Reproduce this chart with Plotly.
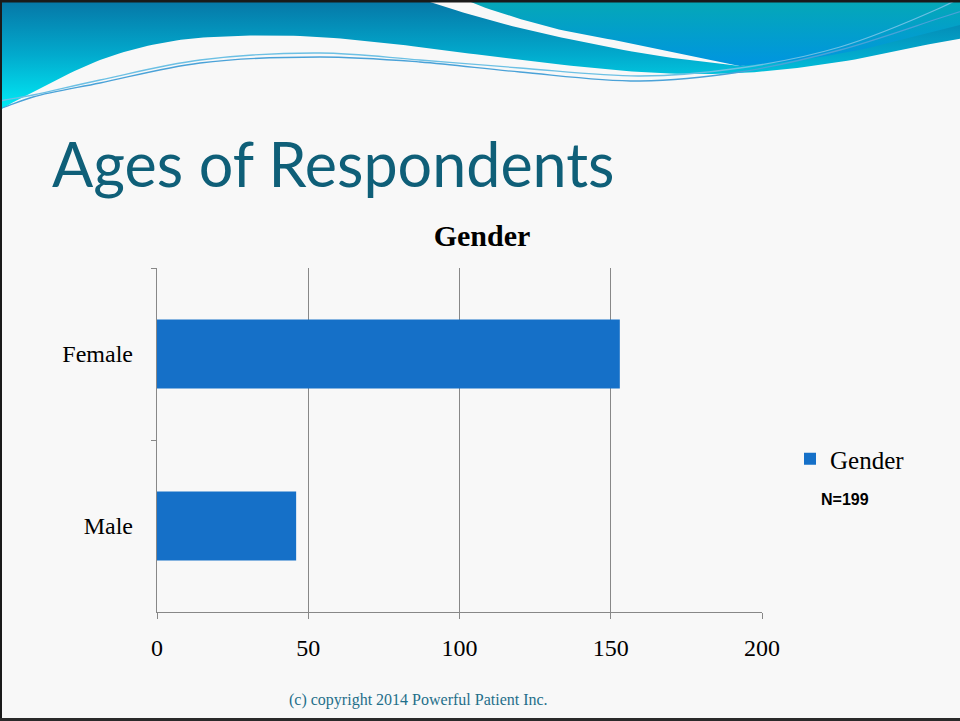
import plotly.graph_objects as go

# ---------------- data ----------------
categories = ["Male", "Female"]
counts = [46, 153]
series_name = "Gender"
x_ticks = [0, 50, 100, 150, 200]
n_label = "N=199"
slide_title = "Ages of Respondents"
chart_title = "Gender"
footer = "(c) copyright 2014 Powerful Patient Inc."

W, H = 960, 721


def px(x):
    return x / W


def py(y):
    return 1 - y / H


def smooth(pts, n=14):
    """Catmull-Rom through hand-read outline points (decoration only)."""
    out = []
    p = [pts[0]] + pts + [pts[-1]]
    for i in range(1, len(p) - 2):
        p0, p1, p2, p3 = p[i - 1], p[i], p[i + 1], p[i + 2]
        for k in range(n):
            t = k / n
            t2, t3 = t * t, t * t * t
            xs = 0.5 * ((2 * p1[0]) + (-p0[0] + p2[0]) * t + (2 * p0[0] - 5 * p1[0] + 4 * p2[0] - p3[0]) * t2 + (-p0[0] + 3 * p1[0] - 3 * p2[0] + p3[0]) * t3)
            ys = 0.5 * ((2 * p1[1]) + (-p0[1] + p2[1]) * t + (2 * p0[1] - 5 * p1[1] + 4 * p2[1] - p3[1]) * t2 + (-p0[1] + 3 * p1[1] - 3 * p2[1] + p3[1]) * t3)
            out.append((xs, ys))
    out.append(pts[-1])
    return out


# decorative wave outlines (pixel space of the slide)
band_a = (
    [(-10, -10), (425, -10)]
    + smooth([(425, -3), (433, 3), (520, 28), (640, 53), (740, 66)])
    + [(850, 45), (975, 5), (975, 36)]
    + smooth([(975, 36), (940, 42), (840, 62), (740, 73), (640, 72), (520, 60), (420, 47),
              (320, 37), (233, 36), (167, 42), (100, 60), (33, 92), (3, 108), (-10, 116)])
)
band_b = (
    [(465, -10), (975, -10), (975, 22)]
    + smooth([(975, 22), (960, 25), (873, 47), (800, 60), (740, 66)])
    + smooth([(740, 66), (640, 45), (553, 28), (473, 3), (466, -10)])
)
line_1 = [(-5, 102), (5, 100), (33, 95), (100, 80), (200, 60), (320, 53), (420, 60), (520, 68),
          (640, 76), (740, 68), (840, 47), (940, 8), (960, -2)]
line_2 = [(-5, 110), (5, 107), (33, 97), (100, 83), (200, 63), (320, 57), (420, 62), (520, 72),
          (640, 81), (740, 72), (840, 50), (940, 18), (965, 10)]

fig = go.Figure()

fig.add_trace(go.Bar(
    y=categories, x=counts, orientation="h", name=series_name,
    marker=dict(color="#1570c8", line=dict(width=0)),
    xaxis="x", yaxis="y", hoverinfo="x+y",
))

fig.add_trace(go.Scatter(
    x=[p[0] for p in band_a], y=[p[1] for p in band_a], mode="lines", fill="toself",
    line=dict(width=0, color="rgba(0,0,0,0)"),
    fillgradient=dict(type="vertical", start=0, stop=110,
                      colorscale=[[0, "#0676a6"], [0.5, "#02aacd"], [1, "#00ecf6"]]),
    xaxis="x2", yaxis="y2", showlegend=False, hoverinfo="skip",
))
fig.add_trace(go.Scatter(
    x=[p[0] for p in band_b], y=[p[1] for p in band_b], mode="lines", fill="toself",
    line=dict(width=0, color="rgba(0,0,0,0)"),
    fillgradient=dict(type="vertical", start=0, stop=62,
                      colorscale=[[0, "#05a8b6"], [1, "#0096de"]]),
    xaxis="x2", yaxis="y2", showlegend=False, hoverinfo="skip",
))
for ln, col in ((line_1, "#6cc0e4"), (line_2, "#4aa2d8")):
    fig.add_trace(go.Scatter(
        x=[p[0] for p in ln], y=[p[1] for p in ln], mode="lines",
        line=dict(width=1.3, color=col, shape="spline", smoothing=1.0),
        xaxis="x2", yaxis="y2", showlegend=False, hoverinfo="skip",
    ))

grid_col = "#888888"
fig.update_layout(
    width=W, height=H,
    margin=dict(l=0, r=0, t=0, b=0, autoexpand=False),
    paper_bgcolor="#f8f8f8",
    plot_bgcolor="rgba(0,0,0,0)",
    bargap=0.6,
    title=dict(text=chart_title, x=px(482), y=py(235), xanchor="center", yanchor="middle",
               xref="paper", yref="paper",
               font=dict(family="Liberation Serif", size=30, color="#000000", weight="bold")),
    xaxis=dict(domain=[px(157), px(762)], range=[0, 200], tickvals=x_ticks,
               showgrid=True, gridcolor=grid_col, gridwidth=1.4, zeroline=False,
               showline=True, linecolor=grid_col, linewidth=1.4,
               ticks="outside", ticklen=6, tickcolor=grid_col, tickwidth=1.4,
               ticklabelstandoff=8,
               tickfont=dict(family="Liberation Serif", size=24, color="#000000"),
               anchor="y", fixedrange=True),
    yaxis=dict(domain=[py(612), py(268)], categoryorder="array", categoryarray=categories,
               showline=True, linecolor=grid_col, linewidth=1.4, showgrid=False,
               ticks="outside", ticklen=5, tickcolor=grid_col, tickwidth=1.4,
               tickson="boundaries", ticklabelstandoff=18,
               tickfont=dict(family="Liberation Serif", size=24, color="#000000"),
               anchor="x", fixedrange=True),
    xaxis2=dict(domain=[0, 1], range=[0, W], visible=False, anchor="y2", fixedrange=True),
    yaxis2=dict(domain=[0, 1], range=[H, 0], visible=False, anchor="x2", fixedrange=True),
    legend=dict(x=px(790), xanchor="left", y=py(459), yanchor="middle",
                bgcolor="rgba(0,0,0,0)",
                font=dict(family="Liberation Serif", size=25, color="#000000")),
    showlegend=True,
    annotations=[
        dict(text=slide_title, x=px(50), y=py(163), xref="paper", yref="paper",
             xanchor="left", yanchor="middle", showarrow=False,
             font=dict(family="Lato", size=61, color="#0f5f78")),
        dict(text=n_label, x=px(845), y=py(499), xref="paper", yref="paper",
             xanchor="center", yanchor="middle", showarrow=False,
             font=dict(family="Liberation Sans", size=16, color="#000000", weight="bold")),
        dict(text=footer, x=px(418), y=py(700), xref="paper", yref="paper",
             xanchor="center", yanchor="middle", showarrow=False,
             font=dict(family="Liberation Serif", size=16, color="#1f6f8a")),
    ],
    shapes=[
        dict(type="line", xref="paper", yref="paper", x0=0, x1=1, y0=1, y1=1,
             line=dict(color="#1a1a1a", width=5), layer="above"),
        dict(type="line", xref="paper", yref="paper", x0=0, x1=0, y0=0, y1=1,
             line=dict(color="#1a1a1a", width=4), layer="above"),
        dict(type="line", xref="paper", yref="paper", x0=0, x1=1, y0=py(719.5), y1=py(719.5),
             line=dict(color="#2a2a2a", width=3), layer="above"),
    ],
)

fig.write_html(
    "out.html",
    config={"displayModeBar": False},
    post_script="document.body.style.margin='0px';document.body.style.padding='0px';"
                "document.body.style.overflow='hidden';",
)
